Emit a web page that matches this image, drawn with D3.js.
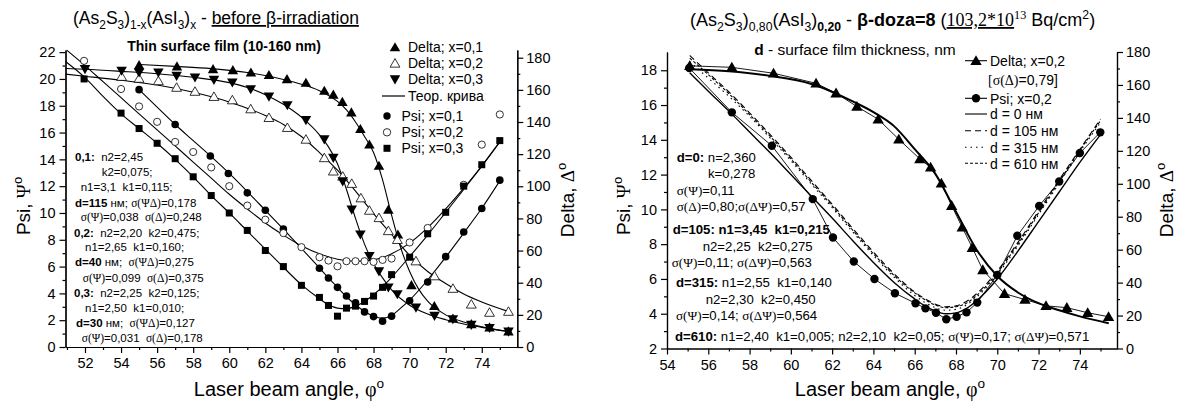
<!DOCTYPE html>
<html>
<head>
<meta charset="utf-8">
<script src="https://cdn.jsdelivr.net/npm/d3@7"></script>
<style>
  body { margin:0; background:#fff; }
  text { font-family:"Liberation Sans", Arial, sans-serif; fill:#000; }
  .ser { font-family:"Liberation Serif", "Times New Roman", serif; }
  .axis path, .axis line { stroke:#000; stroke-width:1.2; }
  .axis text { font-family:"Liberation Sans", Arial, sans-serif; font-size:14.5px; fill:#000; }
</style>
</head>
<body>
<svg id="chart" width="1179" height="406"></svg>
<script>
  // ---------- left panel : before irradiation ----------
  // Delta (right axis), measured points
  var delta01 = [[55,175.4],[57.1,174.6],[59.1,172.9],[60.2,172.3],[61.2,170.8],[62.2,169.2],[63.2,166.7],[64.25,164.4],[65.27,159.4],[65.77,157],[66.27,152.5],[66.77,146],[67.27,135.6],[67.77,126],[68.3,112.8],[68.82,85.5],[69.35,70],[70.1,38.5],[71.37,25.5],[72.4,17.7],[73.42,14.2],[74.43,12.2],[75.48,9.7]];
  var delta02 = [[54.03,168.3],[55,167.1],[56.07,165.6],[57.08,161.5],[58.1,159],[59.15,155.8],[60.17,153.7],[61.19,148.1],[62.2,142.7],[63.22,136.5],[64.25,129.2],[65.27,117.7],[65.77,109.4],[66.29,106.2],[66.79,101.7],[67.3,92.7],[67.77,85],[68.3,80.4],[68.82,72.3],[69.32,66.8],[70.35,53.5],[71.38,44.2],[72.4,36.4],[73.42,26.6],[74.43,21.5],[75.48,22.1]];
  var delta03 = [[52,172.9],[54.03,171.9],[55,170.8],[56.07,170.8],[57.08,168.7],[58.1,167.7],[59.15,166.2],[60.17,164.6],[61.19,160.4],[62.2,155.8],[63.22,150.4],[64.25,141.2],[65.27,129.2],[65.77,117.7],[66.29,103.1],[66.79,85.5],[67.27,70],[67.77,56.6],[68.3,47.1],[68.82,37],[69.32,32.8],[70.35,24.5],[71.38,19.4],[72.4,17.3],[73.42,13.8],[74.43,11.8],[75.48,9.6]];
  // Psi (left axis), measured points
  var psi01 = [[55,19.2],[57,16.6],[58.95,14.25],[59.95,12.95],[61,11.5],[62,10.2],[63,8.8],[65,5.88],[65.5,5.15],[66,4.45],[66.5,3.8],[67,3.3],[67.5,2.62],[68,2.27],[68.5,1.93],[69,2.3],[70,3.45],[71,4.85],[72,6.74],[73,8.58],[74,10.33],[75,12.45]];
  var psi02 = [[51.95,21.35],[54,19.25],[55,17.95],[56,16.8],[57,15.3],[58,14.55],[59,13.4],[60,12],[61,10.55],[62,9.5],[63,8.5],[64,7.45],[65,6.7],[65.5,6.45],[66,6.02],[66.5,6.4],[67,6.4],[67.5,6.4],[68,6.35],[68.5,6.5],[69,6.6],[70,7.8],[71,8.88],[73,12.1],[74,15.1],[75,17.35]];
  var psi03 = [[51.95,20],[54,17.45],[55,16.3],[56,15.2],[57,14.05],[58,12.7],[59,11.3],[60,10],[61,8.7],[62,7.2],[63,6],[64,4.6],[65,3.7],[65.5,3.1],[66,2.3],[66.5,2.9],[67,3.05],[67.5,3.4],[68,3.8],[68.5,4.45],[69,5.4],[70,6.7],[71,8.45],[72,10.05],[73,12],[74,13.6],[75,15.4]];
  // theoretical curves ("Теор. крива")
  var thDelta01 = [[55,175.8],[57,174.6],[59,173.2],[61,170.8],[63,166.5],[64,163.5],[65,159.5],[66,152.8],[66.5,147.5],[67,140],[67.5,131],[68,121],[68.5,104],[69,82],[69.5,62],[70,47],[70.5,36],[71,28.5],[72,20],[73,15.5],[74,12.5],[75.5,9.6]];
  var thDelta02 = [[50.92,169.8],[52,168.5],[54,166],[56,163],[58,158.5],[60,152.5],[62,144],[63,138.5],[64,131],[65,121],[66,110],[67,97],[68,83],[69,70],[70,57],[71,47],[72,39.5],[73,33],[74,28],[75.5,22]];
  var thDelta03 = [[50.92,173.3],[52,172.8],[54,171.5],[56,170],[58,167.8],[60,164.5],[61,161.5],[62,157],[63,151],[64,143],[65,132],[65.5,124.5],[66,114],[66.5,98],[67,80],[67.5,64],[68,52],[68.5,43],[69,35.5],[70,26],[71,20.5],[72,17],[73,14.3],[74,12.2],[75.5,9.6]];
  var thPsi01 = [[55,19.2],[56,17.9],[57,16.6],[58,15.4],[59,14.2],[60,12.95],[61,11.6],[62,10.2],[63,8.8],[64,7.35],[65,5.9],[65.5,5.15],[66,4.45],[66.5,3.75],[67,3.15],[67.5,2.65],[68,2.3],[68.5,2.15],[69,2.35],[69.5,2.9],[70,3.5],[71,5],[72,6.7],[73,8.5],[74,10.35],[75,12.4]];
  var thPsi02 = [[50.98,22.15],[52,21],[53,19.8],[54,18.6],[55,17.4],[56,16.2],[57,15],[58,13.8],[59,12.6],[60,11.4],[61,10.3],[62,9.25],[63,8.35],[64,7.55],[65,6.95],[66,6.55],[67,6.4],[68,6.5],[69,6.95],[70,7.75],[71,8.9],[72,10.3],[73,11.85],[74,13.5],[75,15.3]];
  var thPsi03 = [[50.92,21.3],[52,20.1],[53,18.7],[54,17.4],[55,16.3],[56,15.2],[57,14],[58,12.7],[59,11.3],[60,10],[61,8.65],[62,7.3],[63,5.95],[64,4.65],[65,3.6],[65.5,3.15],[66,2.9],[66.5,2.85],[67,3.05],[67.5,3.4],[68,3.9],[68.5,4.5],[69,5.2],[70,6.75],[71,8.35],[72,10.05],[73,11.75],[74,13.5],[75,15.3]];

  // ---------- right panel : after beta dose ----------
  var deltaR = [[55.1,171.6],[57.14,170.7],[59.16,167.1],[61.22,161],[62.19,155],[63.2,146.9],[64.23,139.2],[65.23,127],[66.25,115.1],[66.77,110],[67.29,100.3],[67.79,86.7],[68.3,73.6],[68.79,61.2],[69.3,47.7],[70.35,33.3],[71.34,29.7],[72.36,25.9],[73.37,24.8],[74.38,21.7],[75.39,19.3]];
  var psiR = [[55.08,18.13],[57.14,15.58],[59.08,13.66],[61.06,10.59],[62.04,8.38],[63.05,7],[64.05,6],[65.04,5.18],[66.04,4.6],[66.52,4.31],[67.03,4.06],[67.53,3.68],[68.03,3.83],[68.51,4.08],[69.03,4.64],[70,6.23],[70.97,8.48],[72.03,10.2],[73,11.6],[74,13.24],[74.99,14.43]];
  var thPsiR0 = [[55.1,17.85],[56,16.8],[57,15.65],[58,14.45],[59,13.25],[60,12],[61,10.75],[62,9.5],[63,8.2],[64,6.95],[65,5.8],[66,4.85],[66.5,4.45],[67,4.15],[67.5,4],[68,4.05],[68.5,4.3],[69,4.75],[70,6],[71,7.6],[72,9.3],[73,11],[74,12.7],[75,14.3]];
  var thPsiR105 = [[55.1,18.85],[56,17.85],[57,16.75],[58,15.55],[59,14.3],[60,13],[61,11.65],[62,10.3],[63,8.9],[64,7.55],[65,6.3],[66,5.25],[66.5,4.85],[67,4.55],[67.5,4.4],[68,4.45],[68.5,4.7],[69,5.15],[70,6.45],[71,8.1],[72,9.9],[73,11.7],[74,13.45],[75,15.2]];
  var thPsiR315 = [[55.1,18.5],[56,17.55],[57,16.5],[58,15.35],[59,14.1],[60,12.8],[61,11.45],[62,10.1],[63,8.7],[64,7.35],[65,6.1],[66,5.05],[66.5,4.65],[67,4.35],[67.5,4.2],[68,4.25],[68.5,4.5],[69,4.95],[70,6.25],[71,7.9],[72,9.7],[73,11.5],[74,13.3],[75,15]];
  var thPsiR610 = [[55.1,18.7],[56,17.75],[57,16.65],[58,15.45],[59,14.2],[60,12.9],[61,11.55],[62,10.2],[63,8.8],[64,7.45],[65,6.2],[66,5.2],[66.5,4.8],[67,4.5],[67.5,4.35],[68,4.4],[68.5,4.6],[69,5.05],[70,6.35],[71,8],[72,9.8],[73,11.6],[74,13.4],[75,15.1]];
  var thDeltaR = [[55.1,169.5],[57,168.3],[59,165.5],[61,160.6],[63,150],[64,143.5],[65,135],[66,121],[67,106],[68,83],[69,60],[70,44],[71,34],[72,27.5],[73,23.2],[74,19.5],[75.4,15.3]];

  // tick values
  var xTicksL  = d3.range(52, 75, 2),  xMinorL  = d3.range(51, 76, 2);
  var xTicksR  = d3.range(54, 75, 2),  xMinorR  = d3.range(55, 76, 2);
  var psiTicksL = d3.range(0, 23, 2),  psiMinorL = d3.range(1, 22, 2);
  var psiTicksR = d3.range(2, 19, 2),  psiMinorR = d3.range(3, 18, 2);
  var delTicks  = d3.range(0, 181, 20), delMinor  = d3.range(10, 171, 20);

  var svg = d3.select("#chart");

  // scales
  var xL   = d3.scaleLinear().domain([50.92, 75.97]).range([65.5, 517.3]);
  var psiL = d3.scaleLinear().domain([0, 22.16]).range([347, 50]);
  var delL = d3.scaleLinear().domain([0, 184.8]).range([347, 50]);
  var xR   = d3.scaleLinear().domain([54, 75.8]).range([667, 1117]);
  var psiR_ = d3.scaleLinear().domain([2, 19.05]).range([348.5, 52]);
  var delR = d3.scaleLinear().domain([0, 180]).range([348.5, 52]);

  // axes of one panel
  function axes(xs, yl, yr, xt, xm, ylt, ylm, yrt, yrm) {
    var yb = yl.range()[0], xa = xs.range()[0], xb = xs.range()[1];
    var g = svg.append("g").attr("class", "axis");
    g.append("g").attr("transform", "translate(0," + yb + ")")
     .call(d3.axisBottom(xs).tickValues(xm).tickSize(3).tickFormat("").tickSizeOuter(0));
    g.append("g").attr("transform", "translate(0," + yb + ")")
     .call(d3.axisBottom(xs).tickValues(xt).tickSize(6).tickPadding(5).tickSizeOuter(0));
    g.append("g").attr("transform", "translate(" + xa + ",0)")
     .call(d3.axisLeft(yl).tickValues(ylm).tickSize(3).tickFormat("").tickSizeOuter(0));
    g.append("g").attr("transform", "translate(" + xa + ",0)")
     .call(d3.axisLeft(yl).tickValues(ylt).tickSize(6).tickPadding(4).tickSizeOuter(0));
    g.append("g").attr("transform", "translate(" + xb + ",0)")
     .call(d3.axisRight(yr).tickValues(yrm).tickSize(3).tickFormat("").tickSizeOuter(0));
    g.append("g").attr("transform", "translate(" + xb + ",0)")
     .call(d3.axisRight(yr).tickValues(yrt).tickSize(6).tickPadding(3).tickSizeOuter(0));
  }

  // text with bold / serif / sub / sup / underline pieces
  function rich(x, y, size, parts, anchor, rot) {
    var t = svg.append("text").attr("font-size", size + "px").style("white-space", "pre")
               .attr("text-anchor", anchor || "start");
    if (rot) t.attr("transform", "translate(" + x + "," + y + ") rotate(-90)");
    else t.attr("x", x).attr("y", y);
    var shift = 0;
    parts.forEach(function(p) {
      var f = p[1] || "", s = t.append("tspan").text(p[0]);
      var ns = 0;
      if (f.indexOf("_") >= 0) ns = size * 0.3;
      if (f.indexOf("^") >= 0) ns = -size * 0.4;
      if (ns !== shift) { s.attr("dy", ns - shift); shift = ns; }
      if (ns !== 0) s.attr("font-size", (size * 0.68) + "px");
      if (f.indexOf("b") >= 0) s.attr("font-weight", "bold");
      if (f.indexOf("s") >= 0) s.attr("class", "ser");
      if (f.indexOf("u") >= 0) s.attr("text-decoration", "underline");
    });
    return t;
  }

  function curve(data, xs, ys, width, dash, type) {
    svg.append("path").datum(data)
       .attr("d", d3.line().x(function(d){ return xs(d[0]); }).y(function(d){ return ys(d[1]); })
                 .curve(type || d3.curveMonotoneX))
       .style("fill", "none").style("stroke", "#000").style("stroke-width", width)
       .style("stroke-dasharray", dash || null);
  }

  var symTri = d3.symbol().type(d3.symbolTriangle);
  function marks(data, xs, ys, kind, sz) {
    var g = svg.append("g");
    data.forEach(function(d) {
      var px = xs(d[0]), py = ys(d[1]);
      if (kind === "circle" || kind === "ocircle") {
        g.append("circle").attr("cx", px).attr("cy", py).attr("r", sz)
         .style("fill", kind === "circle" ? "#000" : "#fff").style("stroke", "#000").style("stroke-width", kind === "circle" ? 0 : 0.8);
      } else if (kind === "square") {
        g.append("rect").attr("x", px - sz).attr("y", py - sz).attr("width", 2 * sz).attr("height", 2 * sz).style("fill", "#000");
      } else {
        g.append("path").attr("d", symTri.size(sz)())
         .attr("transform", "translate(" + px + "," + (py + (kind === "down" ? -1 : 1)) + ")" + (kind === "down" ? " rotate(180)" : ""))
         .style("fill", kind === "otri" ? "#fff" : "#000").style("stroke", "#000").style("stroke-width", kind === "otri" ? 0.8 : 0);
      }
    });
  }

  // ===== left panel =====
  axes(xL, psiL, delL, xTicksL, xMinorL, psiTicksL, psiMinorL, delTicks, delMinor);
  curve(thDelta01, xL, delL, 1.1);
  curve(thDelta02, xL, delL, 1.1);
  curve(thDelta03, xL, delL, 1.1);
  curve(thPsi01, xL, psiL, 1.1);
  curve(thPsi02, xL, psiL, 1.1);
  curve(thPsi03, xL, psiL, 1.1);
  marks(delta01, xL, delL, "tri", 48);
  marks(delta02, xL, delL, "otri", 42);
  marks(delta03, xL, delL, "down", 48);
  marks(psi01, xL, psiL, "circle", 3.8);
  marks(psi02, xL, psiL, "ocircle", 3.6);
  marks(psi03, xL, psiL, "square", 3.5);

  rich(73, 24, 17.5, [["(As"],["2","_"],["S"],["3","_"],[")"],["1-x","_"],["(AsI"],["3","_"],[")"],["x","_"],[" - "],["before β-irradiation","u"]]);
  rich(224, 51, 14, [["Thin surface film (10-160 nm)","b"]], "middle");

  // left legend
  var legL = [["Delta; x=0,1","tri",47.3],["Delta; x=0,2","otri",63.3],["Delta; x=0,3","down",79.3]];
  legL.forEach(function(r) {
    marks([[0,0]], function(){ return 395; }, function(){ return r[2]; }, r[1], r[1]==="otri" ? 42 : 48);
    rich(408, r[2] + 5, 14, [[r[0]]]);
  });
  svg.append("line").attr("x1", 382).attr("x2", 405).attr("y1", 96).attr("y2", 96).style("stroke", "#000").style("stroke-width", 1.2);
  rich(408, 101, 14, [["Теор. крива"]]);
  [["Psi; x=0,1","circle",116],["Psi; x=0,2","ocircle",132.3],["Psi; x=0,3","square",148.3]].forEach(function(r) {
    marks([[0,0]], function(){ return 387; }, function(){ return r[2]; }, r[1], r[1]==="square" ? 3.5 : 3.7);
    rich(401.5, r[2] + 5, 14, [[r[0]]]);
  });

  // left fit parameters
  var fsL = 11.5;
  rich(75, 161, fsL, [["0,1:","b"],["  n2=2,45"]]);
  rich(101.7, 176, fsL, [["k2=0,075;"]]);
  rich(80.7, 191, fsL, [["n1=3,1  k1=0,115;"]]);
  rich(75, 206.5, fsL, [["d=115","b"],[" нм; "],["σ(ΨΔ)","s"],["=0,178"]]);
  rich(80.7, 221, fsL, [["σ(Ψ)","s"],["=0,038  "],["σ(Δ)","s"],["=0,248"]]);
  rich(74, 237, fsL, [["0,2:","b"],["  n2=2,20  k2=0,475;"]]);
  rich(85, 251, fsL, [["n1=2,65  k1=0,160;"]]);
  rich(75, 266, fsL, [["d=40","b"],[" нм;  "],["σ(ΨΔ)","s"],["=0,275"]]);
  rich(82.7, 281.5, fsL, [["σ(Ψ)","s"],["=0,099  "],["σ(Δ)","s"],["=0,375"]]);
  rich(74, 297, fsL, [["0,3:","b"],["  n2=2,25  k2=0,125;"]]);
  rich(85, 311.5, fsL, [["n1=2,50  k1=0,010;"]]);
  rich(76, 327, fsL, [["d=30","b"],[" нм;  "],["σ(ΨΔ)","s"],["=0,127"]]);
  rich(81.7, 342, fsL, [["σ(Ψ)","s"],["=0,031  "],["σ(Δ)","s"],["=0,178"]]);

  rich(30, 206, 19, [["Psi, "],["Ψ","s"],["o","^"]], "middle", true);
  rich(574, 200, 19, [["Delta, "],["Δ","s"],["o","^"]], "middle", true);
  rich(289, 396, 20, [["Laser beam angle, "],["φ","s"],["o","^"]], "middle");

  // ===== right panel =====
  axes(xR, psiR_, delR, xTicksR, xMinorR, psiTicksR, psiMinorR, delTicks, delMinor);
  curve(thPsiR0, xR, psiR_, 1.4);
  curve(thPsiR105, xR, psiR_, 1.1, "6,4");
  curve(thPsiR315, xR, psiR_, 1.1, "1.5,4");
  curve(thPsiR610, xR, psiR_, 1.1, "3,2");
  curve(thDeltaR, xR, delR, 2);
  curve(deltaR, xR, delR, 0.9, null, d3.curveLinear);
  curve(psiR, xR, psiR_, 0.9, null, d3.curveLinear);
  marks(deltaR, xR, delR, "tri", 56);
  marks(psiR, xR, psiR_, "circle", 4.2);

  rich(690, 26, 18, [["(As"],["2","_"],["S"],["3","_"],[")"],["0,80","_"],["(AsI"],["3","_"],[")"],["0,20","_b"],[" - "],["β-doza=8","b"],[" ("],["103,2*10","su"],["13","s^"],[" Bq/cm"],["2","^"],[")"]]);
  rich(855, 55, 15.5, [["d","b"],[" - surface film thickness, nm"]], "middle");

  // right legend
  function legLine(y, dash, mk) {
    svg.append("line").attr("x1", 965).attr("x2", 987).attr("y1", y).attr("y2", y)
       .style("stroke", "#000").style("stroke-width", 1.1).style("stroke-dasharray", dash || null);
    if (mk) marks([[0,0]], function(){ return 976; }, function(){ return y; }, mk, mk === "tri" ? 56 : 4.2);
  }
  legLine(60.7, null, "tri");   rich(990, 66, 14, [["Delta; x=0,2"]]);
  rich(988, 84.5, 14, [["[σ(Δ)","s"],["=0,79]"]]);
  legLine(98.3, null, "circle"); rich(990, 103.5, 14, [["Psi; x=0,2"]]);
  legLine(114, null);            rich(990, 119, 14, [["d = 0 нм"]]);
  legLine(130.7, "6,4");         rich(990, 136, 14, [["d = 105 нм"]]);
  legLine(147.3, "1.5,4");       rich(990, 152.5, 14, [["d = 315 нм"]]);
  legLine(163.3, "3,2");         rich(990, 168.5, 14, [["d = 610 нм"]]);

  // right fit parameters
  var fsR = 13.2;
  rich(676.7, 161.5, fsR, [["d=0:","b"],[" n=2,360"]]);
  rich(708, 177.5, fsR, [["k=0,278"]]);
  rich(676.7, 195, fsR, [["σ(Ψ)","s"],["=0,11"]]);
  rich(676.7, 210.5, fsR, [["σ(Δ)","s"],["=0,80;"],["σ(ΔΨ)","s"],["=0,57"]]);
  rich(672.7, 234, fsR, [["d=105: n1=3,45  k1=0,215","b"]]);
  rich(702.7, 250.5, fsR, [["n2=2,25  k2=0,275"]]);
  rich(671.7, 266.5, fsR, [["σ(Ψ)","s"],["=0,11; "],["σ(ΔΨ)","s"],["=0,563"]]);
  rich(676, 287, fsR, [["d=315:","b"],[" n1=2,55  k1=0,140"]]);
  rich(705.7, 304, fsR, [["n2=2,30  k2=0,450"]]);
  rich(676, 320, fsR, [["σ(Ψ)","s"],["=0,14; "],["σ(ΔΨ)","s"],["=0,564"]]);
  rich(675, 340.5, fsR, [["d=610:","b"],[" n1=2,40  k1=0,005; n2=2,10  k2=0,05; "],["σ(Ψ)","s"],["=0,17; "],["σ(ΔΨ)","s"],["=0,571"]]);

  rich(630, 206, 19, [["Psi, "],["Ψ","s"],["o","^"]], "middle", true);
  rich(1173, 200, 19, [["Delta, "],["Δ","s"],["o","^"]], "middle", true);
  rich(890, 396, 20, [["Laser beam angle, "],["φ","s"],["o","^"]], "middle");
</script>
</body>
</html>
